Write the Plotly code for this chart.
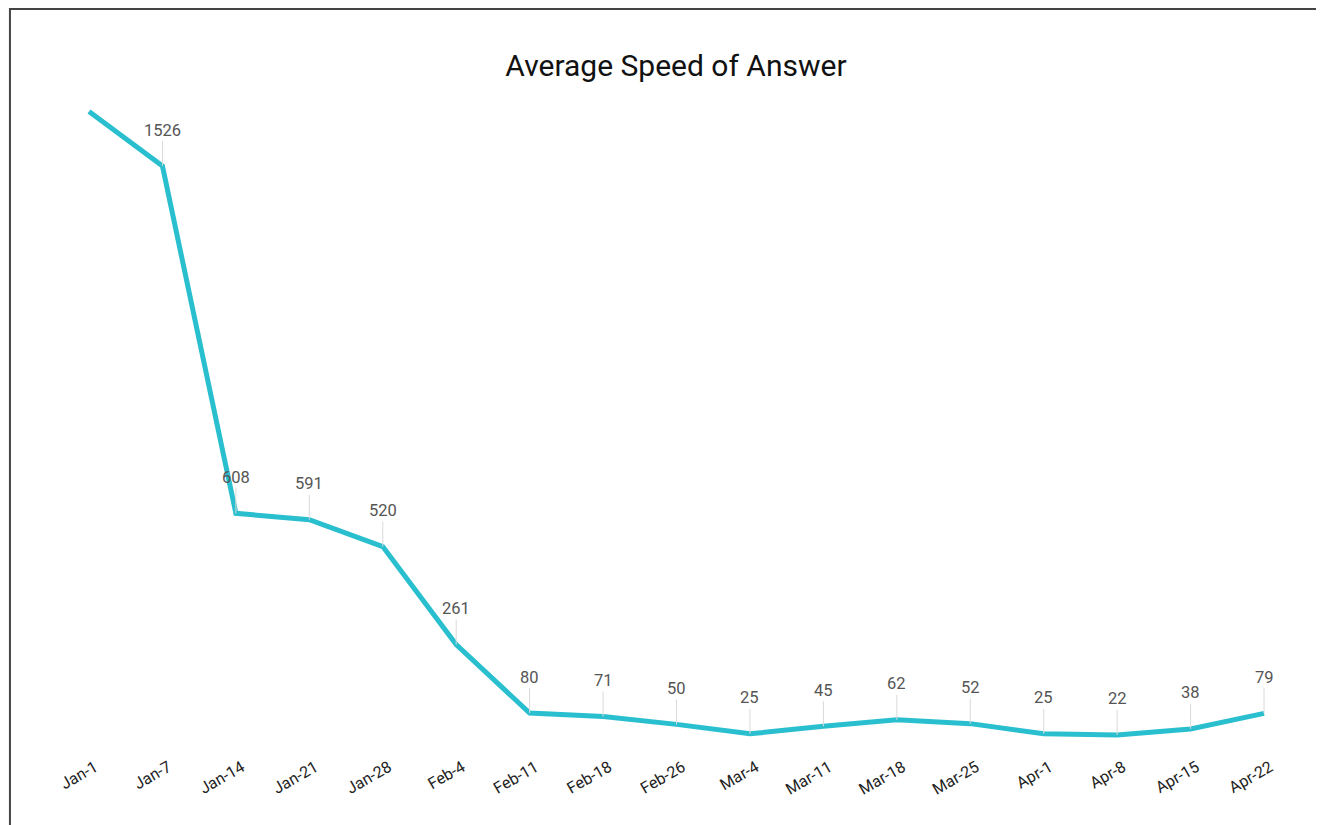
import plotly.graph_objects as go

# ---------------- Data ----------------

weeks = [
    "Jan-1", "Jan-7", "Jan-14", "Jan-21", "Jan-28", "Feb-4", "Feb-11",
    "Feb-18", "Feb-26", "Mar-4", "Mar-11", "Mar-18", "Mar-25", "Apr-1",
    "Apr-8", "Apr-15", "Apr-22"
]

speed_of_answer = [
    1670, 1526, 608, 591, 520, 261, 80,
    71, 50, 25, 45, 62, 52, 25,
    22, 38, 79
]

LINE_COLOR = "#29BFCE"

# ---------------- Figure ----------------

fig = go.Figure()

fig.add_trace(
    go.Scatter(
        x=list(range(len(weeks))),
        y=speed_of_answer,
        mode="lines",
        line=dict(color=LINE_COLOR, width=5),
        hoverinfo="x+y",
        showlegend=False
    )
)

# value labels with a thin leader line (first one is cut off in the source)
for i, v in enumerate(speed_of_answer):
    if i == 0:
        continue
    fig.add_annotation(
        x=i,
        y=v,
        text=str(v),
        showarrow=True,
        arrowhead=0,
        arrowwidth=1,
        arrowcolor="#D9D9D9",
        ax=0,
        ay=-36,
        font=dict(size=16.5, color="#555555")
    )

fig.update_layout(
    width=1324,
    height=825,
    paper_bgcolor="white",
    plot_bgcolor="white",
    font=dict(family="Roboto, Arial, sans-serif", color="#222222"),
    title=dict(
        text="Average Speed of Answer",
        x=0.5045,
        xref="container",
        xanchor="center",
        y=0.9309,
        yref="container",
        yanchor="middle",
        font=dict(size=30, color="#111111")
    ),
    margin=dict(l=42, r=38, t=82, b=88),
    xaxis=dict(
        range=[-0.531, 16.408],
        tickmode="array",
        tickvals=list(range(len(weeks))),
        ticktext=weeks,
        tickangle=-30,
        ticklabelshift=6,
        ticklabelstandoff=9,
        tickfont=dict(size=16, color="#222222"),
        showgrid=False,
        zeroline=False,
        showline=False,
        ticks=""
    ),
    yaxis=dict(
        range=[-4.5, 1727],
        visible=False,
        showgrid=False,
        zeroline=False
    ),
    shapes=[
        dict(
            type="rect",
            xref="paper",
            yref="paper",
            x0=-0.0322,
            x1=1.1,
            y0=-0.3,
            y1=1.1237,
            line=dict(color="#444444", width=2)
        )
    ]
)

fig.write_html("out.html")
